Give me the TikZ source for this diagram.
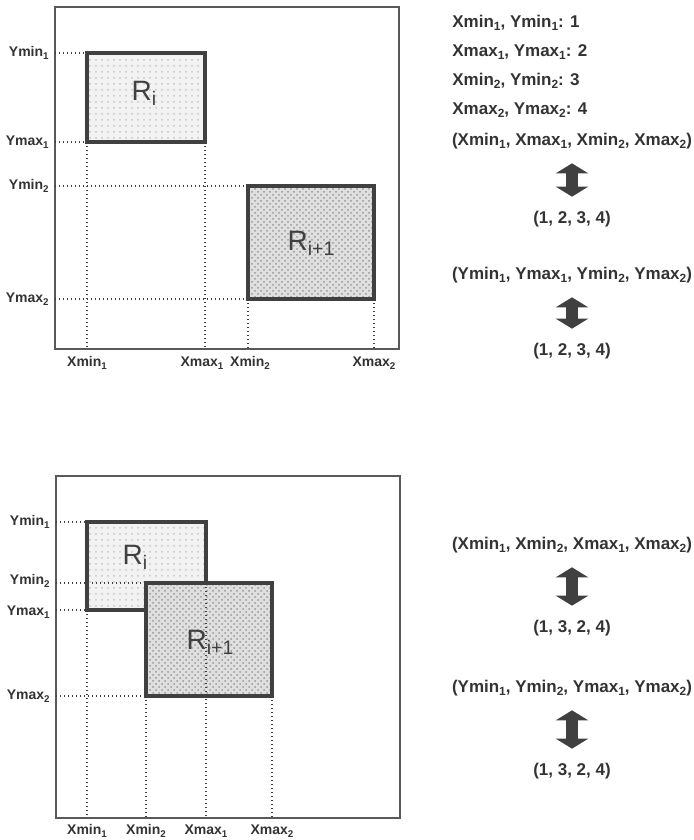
\documentclass[tikz,border=0pt]{standalone}
\usepackage{fontspec}
\setmainfont{Liberation Sans}
\usetikzlibrary{arrows.meta, patterns}
\newcommand{\ix}[1]{\raisebox{-0.35ex}{\scalebox{0.7}{#1}}}

\tikzset{
  frame/.style={draw=black!65, line width=0.7pt},
  guide/.style={draw=black!75, line width=0.7pt, dash pattern=on 0.7pt off 1.3pt},
  rectone/.style={draw=black!75, line width=2pt, preaction={fill=gray!10},
    preaction={pattern=dots, pattern color=gray!45}},
  recttwo/.style={draw=black!75, line width=2pt, preaction={fill=gray!25},
    preaction={pattern=crosshatch dots, pattern color=gray!80}},
  axlabel/.style={font=\bfseries\fontsize{7}{8}\selectfont, text=black!80, inner sep=0pt},
  rlabel/.style={font=\fontsize{14}{16}\selectfont, text=black!75, inner sep=0pt},
  maptext/.style={font=\bfseries\fontsize{8.5}{10}\selectfont, text=black!80, inner sep=0pt},
  dblarrow/.style={draw=black!75, line width=6pt,
    {Triangle[width=16pt,length=5pt]}-{Triangle[width=16pt,length=5pt]},
    shorten <=7pt, shorten >=7pt}
}

\begin{document}
\begin{tikzpicture}[x=0.5pt, y=-0.5pt]
  \useasboundingbox (0,0) rectangle (694,840);

  % ---------- Top panel: disjoint rectangles ----------
  \def\xa{87}  \def\xb{205} \def\xc{248} \def\xd{374}
  \def\ya{53}  \def\yb{142} \def\yc{186} \def\yd{299}
  \def\ybot{349}

  \draw[frame] (55,7) rectangle (399,\ybot);
  \draw[rectone] (\xa,\ya) rectangle (\xb,\yb);
  \draw[recttwo] (\xc,\yc) rectangle (\xd,\yd);
  \node[rlabel] (ri) at (144,93) {R\ix{i}};
  \node[rlabel] (rnext) at (311,243) {R\ix{i+1}};

  % Guide lines
  \draw[guide] (55,\ya) -- (\xa,\ya);
  \draw[guide] (55,\yb) -- (\xa,\yb);
  \draw[guide] (55,\yc) -- (\xc,\yc);
  \draw[guide] (55,\yd) -- (\xc,\yd);
  \draw[guide] (\xa,\yb) -- (\xa,\ybot);
  \draw[guide] (\xb,\yb) -- (\xb,\ybot);
  \draw[guide] (\xc,\yd) -- (\xc,\ybot);
  \draw[guide] (\xd,\yd) -- (\xd,\ybot);

  % Axis labels
  \node[axlabel, anchor=east] (tymina) at (49,\ya) {Ymin\ix{1}};
  \node[axlabel, anchor=east] (tymaxa) at (49,\yb) {Ymax\ix{1}};
  \node[axlabel, anchor=east] (tyminb) at (49,\yc) {Ymin\ix{2}};
  \node[axlabel, anchor=east] (tymaxb) at (49,\yd) {Ymax\ix{2}};
  \node[axlabel] (txmina) at (\xa,363) {Xmin\ix{1}};
  \node[axlabel] (txmaxa) at (\xb-3,363) {Xmax\ix{1}};
  \node[axlabel] (txminb) at (\xc+2,363) {Xmin\ix{2}};
  \node[axlabel] (txmaxb) at (\xd,363) {Xmax\ix{2}};

  % Rank table
  \node[maptext, anchor=west] (rankone) at (452,23) {Xmin\ix{1}, Ymin\ix{1}: 1};
  \node[maptext, anchor=west] (ranktwo) at (452,52) {Xmax\ix{1}, Ymax\ix{1}: 2};
  \node[maptext, anchor=west] (rankthree) at (452,81) {Xmin\ix{2}, Ymin\ix{2}: 3};
  \node[maptext, anchor=west] (rankfour) at (452,110) {Xmax\ix{2}, Ymax\ix{2}: 4};
  \node[maptext] (txorder) at (572,141) {(Xmin\ix{1}, Xmax\ix{1}, Xmin\ix{2}, Xmax\ix{2})};
  \node[maptext] (txrank) at (572,219) {(1, 2, 3, 4)};
  \node[maptext] (tyorder) at (572,275) {(Ymin\ix{1}, Ymax\ix{1}, Ymin\ix{2}, Ymax\ix{2})};
  \node[maptext] (tyrank) at (572,351) {(1, 2, 3, 4)};
  \draw[dblarrow] (txorder) -- (txrank);
  \draw[dblarrow] (tyorder) -- (tyrank);

  % ---------- Bottom panel: overlapping rectangles ----------
  \def\xa{87}  \def\xb{146} \def\xc{206} \def\xd{272}
  \def\ya{522} \def\yb{583} \def\yc{610} \def\yd{696}
  \def\ybot{818}

  \draw[frame] (56,476) rectangle (400,\ybot);
  \draw[rectone] (\xa,\ya) rectangle (\xc,\yc);
  \draw[recttwo] (\xb,\yb) rectangle (\xd,\yd);
  \node[rlabel] (bri) at (135,557) {R\ix{i}};
  \node[rlabel] (brnext) at (210,642) {R\ix{i+1}};

  % Guide lines
  \draw[guide] (56,\ya) -- (\xa,\ya);
  \draw[guide] (56,\yb) -- (\xb,\yb);
  \draw[guide] (56,\yc) -- (\xa,\yc);
  \draw[guide] (56,\yd) -- (\xb,\yd);
  \draw[guide] (\xa,\yc) -- (\xa,\ybot);
  \draw[guide] (\xb,\yd) -- (\xb,\ybot);
  \draw[guide] (\xc,\yb) -- (\xc,\ybot);
  \draw[guide] (\xd,\yd) -- (\xd,\ybot);

  % Axis labels
  \node[axlabel, anchor=east] (bymina) at (50,\ya) {Ymin\ix{1}};
  \node[axlabel, anchor=east] (byminb) at (50,\yb-2) {Ymin\ix{2}};
  \node[axlabel, anchor=east] (bymaxa) at (50,\yc+2) {Ymax\ix{1}};
  \node[axlabel, anchor=east] (bymaxb) at (50,\yd) {Ymax\ix{2}};
  \node[axlabel] (bxmina) at (\xa,831) {Xmin\ix{1}};
  \node[axlabel] (bxminb) at (\xb,831) {Xmin\ix{2}};
  \node[axlabel] (bxmaxa) at (\xc,831) {Xmax\ix{1}};
  \node[axlabel] (bxmaxb) at (\xd,831) {Xmax\ix{2}};

  % Rank table
  \node[maptext] (bxorder) at (572,545) {(Xmin\ix{1}, Xmin\ix{2}, Xmax\ix{1}, Xmax\ix{2})};
  \node[maptext] (bxrank) at (572,628) {(1, 3, 2, 4)};
  \node[maptext] (byorder) at (572,688) {(Ymin\ix{1}, Ymin\ix{2}, Ymax\ix{1}, Ymax\ix{2})};
  \node[maptext] (byrank) at (572,771) {(1, 3, 2, 4)};
  \draw[dblarrow] (bxorder) -- (bxrank);
  \draw[dblarrow] (byorder) -- (byrank);
\end{tikzpicture}
\end{document}
